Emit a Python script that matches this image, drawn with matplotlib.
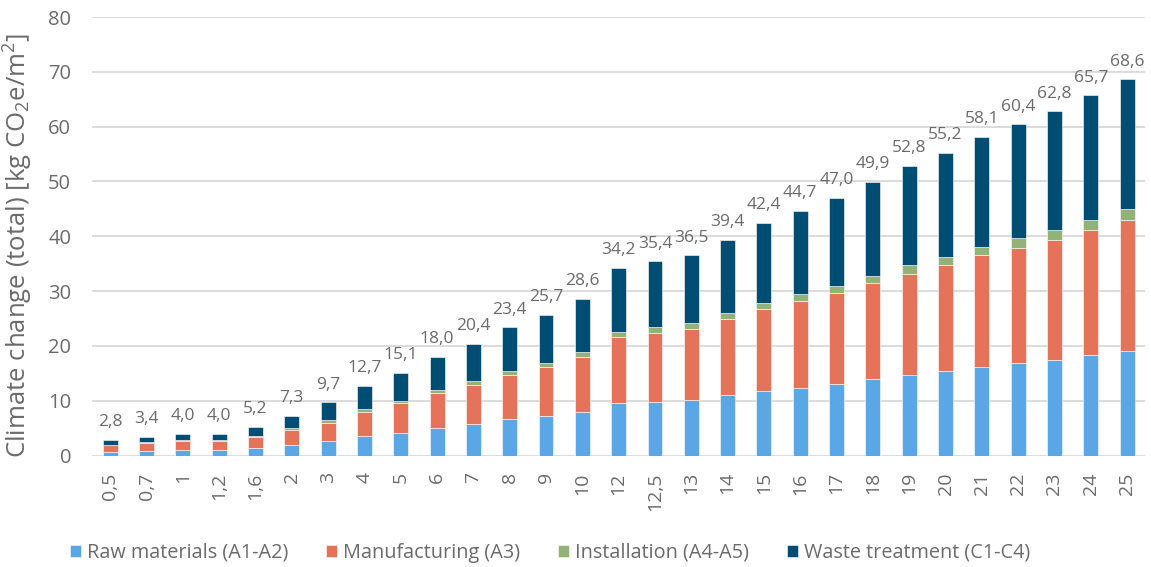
import matplotlib
matplotlib.use("Agg")
import matplotlib.pyplot as plt
import numpy as np

# category labels (x axis)
categories = ["0,5", "0,7", "1", "1,2", "1,6", "2", "3", "4", "5", "6", "7", "8", "9", "10",
              "12", "12,5", "13", "14", "15", "16", "17", "18", "19", "20", "21", "22", "23", "24", "25"]

# stacked segment values [kg CO2e/m2]
raw_materials = [0.6, 0.8, 1.0, 1.0, 1.3, 2.0, 2.7, 3.5, 4.2, 5.0, 5.8, 6.6, 7.2, 8.0,
                 9.5, 9.8, 10.1, 11.0, 11.8, 12.4, 13.1, 14.0, 14.7, 15.4, 16.2, 16.9, 17.5, 18.3, 19.1]
manufacturing = [1.3, 1.5, 1.6, 1.6, 2.0, 2.6, 3.3, 4.5, 5.4, 6.4, 7.1, 8.1, 9.0, 10.0,
                 12.1, 12.5, 13.0, 13.9, 14.9, 15.7, 16.5, 17.4, 18.5, 19.3, 20.3, 21.0, 21.8, 22.9, 23.9]
installation = [0.1, 0.2, 0.2, 0.2, 0.3, 0.4, 0.4, 0.4, 0.4, 0.6, 0.7, 0.8, 0.7, 0.9,
                1.0, 1.1, 1.0, 1.1, 1.2, 1.3, 1.3, 1.4, 1.5, 1.5, 1.6, 1.7, 1.8, 1.8, 1.9]
waste_treatment = [0.8, 0.9, 1.2, 1.2, 1.6, 2.3, 3.3, 4.3, 5.1, 6.0, 6.8, 7.9, 8.8, 9.7,
                   11.6, 12.0, 12.4, 13.4, 14.5, 15.3, 16.1, 17.1, 18.1, 19.0, 20.0, 20.8, 21.7, 22.7, 23.7]
totals = [2.8, 3.4, 4.0, 4.0, 5.2, 7.3, 9.7, 12.7, 15.1, 18.0, 20.4, 23.4, 25.7, 28.6,
          34.2, 35.4, 36.5, 39.4, 42.4, 44.7, 47.0, 49.9, 52.8, 55.2, 58.1, 60.4, 62.8, 65.7, 68.6]

series = [
    ("Raw materials (A1-A2)", raw_materials, "#5ba6e4"),
    ("Manufacturing (A3)", manufacturing, "#e5735a"),
    ("Installation (A4-A5)", installation, "#93b277"),
    ("Waste treatment (C1-C4)", waste_treatment, "#004d74"),
]

TEXT = "#6b6b6b"

plt.rcParams.update({
    "font.family": ["Open Sans", "DejaVu Sans"],
    "mathtext.fontset": "custom",
    "mathtext.rm": "Open Sans",
    "mathtext.it": "Open Sans",
    "text.color": TEXT,
})

fig = plt.figure(figsize=(11.51, 5.67), dpi=100)
ax = fig.add_axes([0.080, 0.1966, 0.915, 0.7734])

x = np.arange(len(categories))
bottom = np.zeros(len(categories))
for name, vals, color in series:
    vals = np.array(vals)
    ax.bar(x, vals, width=0.41, bottom=bottom, color=color, label=name,
           edgecolor="white", linewidth=0.4, zorder=3)
    bottom += vals

for xi, top, tot in zip(x, bottom, totals):
    ax.annotate(f"{tot:.1f}".replace(".", ","), (xi, top), xytext=(0, 7),
                textcoords="offset points", ha="center", va="bottom",
                fontsize=12.5, color=TEXT)

ax.set_xlim(-0.5, len(categories) - 0.5)
ax.set_ylim(0, 80)
ax.set_yticks(range(0, 81, 10))
ax.set_xticks(x)
ax.set_xticklabels(categories, rotation=90, fontsize=14, color=TEXT)
ax.tick_params(axis="y", labelsize=14.5, labelcolor=TEXT, length=0, pad=15)
ax.tick_params(axis="x", length=0, pad=12)
ax.grid(axis="y", color="#d9d9d9", linewidth=1.3, zorder=0)
for s in ax.spines.values():
    s.set_visible(False)
ax.set_ylabel(r"Climate change (total) [kg CO$_2$e/m$^2$]", fontsize=18.5, color=TEXT)
ax.yaxis.set_label_coords(-0.054, 0.48)

fig.legend(loc="center", bbox_to_anchor=(0.478, 0.025), ncol=4, frameon=False,
           fontsize=14.3, handlelength=0.55, handleheight=0.55, handletextpad=0.3,
           columnspacing=1.9, labelcolor=TEXT)

fig.savefig("out.png", dpi=100)
